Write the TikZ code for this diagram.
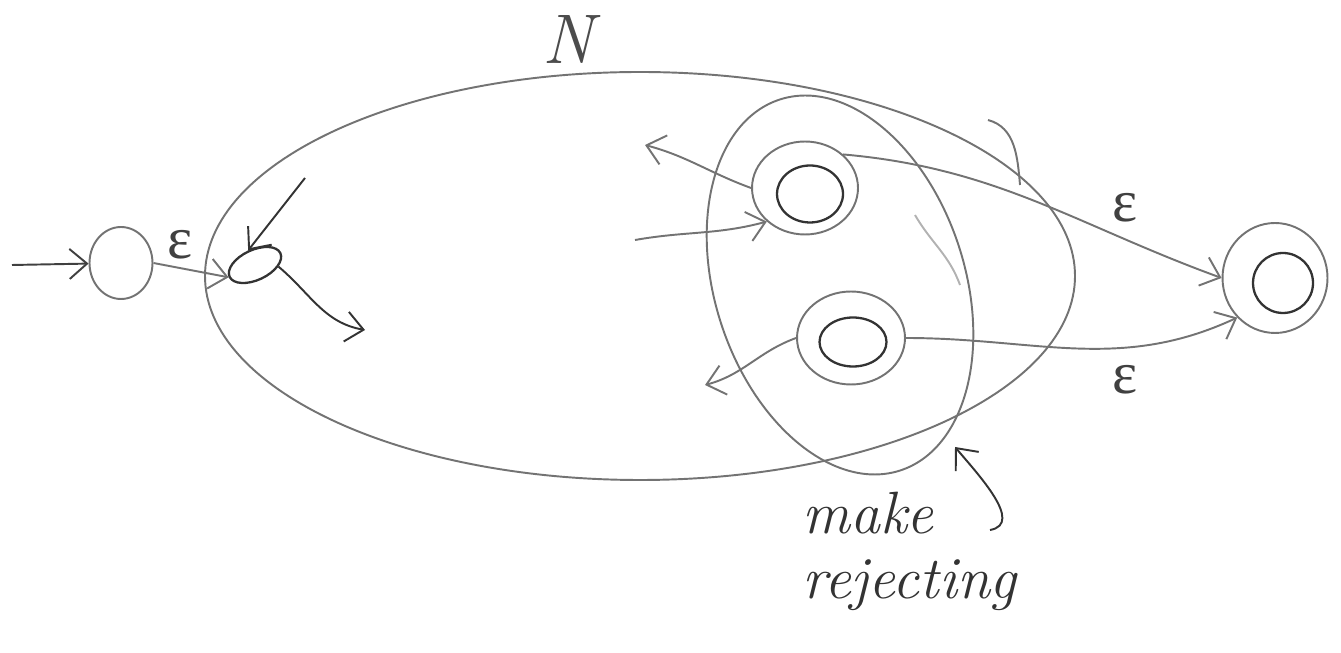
\documentclass[tikz,border=0pt]{standalone}
\usepackage{amsmath}
\usepackage{fontspec}
\newfontfamily\grk{Liberation Serif}
\usepackage{tikz}
\usetikzlibrary{positioning}
\usetikzlibrary{shapes.geometric,arrows.meta}

\begin{document}
\begin{tikzpicture}[x=0.02cm, y=0.02cm,
    pen/.style={draw=black!55, line width=1.1pt},
    ink/.style={draw=black!80, line width=1.3pt},
    arr/.style={pen, -{Straight Barb[length=3.5mm,width=6mm]}},
    st/.style={ellipse, pen, inner sep=0pt},
    eps/.style={text=black!75, font=\fontsize{34}{40}\selectfont\grk}]
    \useasboundingbox (0,0) rectangle (1341,652);

    % outer machine N
    \draw[pen] (640,376) ellipse [x radius=435, y radius=204];
    \node[text=black!70, font=\fontsize{40}{44}\selectfont\itshape] (nlabel) at (568,612) {N};

    % new start state and old start state
    \node[st, minimum width=1.26cm, minimum height=1.44cm] (start) at (121,389) {};
    \node[st, ink, minimum width=1.12cm, minimum height=0.6cm, rotate=25] (oldstart) at (255,387) {};
    \coordinate (inpt) at (12,387);
    \coordinate (oldin) at (305,474);
    \coordinate (oldout) at (365,322);
    \draw[arr, draw=black!75] (inpt) -- (start);
    \draw[arr] (start.east) -- (oldstart.west);
    \node[eps] (eps0) at (180,407) {ε};
    \draw[arr, draw=black!80] (oldin) -- (oldstart.north);
    \draw[arr, draw=black!80] (oldstart.south east) to[out=-40, in=170] (oldout);

    % accept states of N
    \node[st, minimum width=2.12cm, minimum height=1.86cm] (acc1) at (805,464) {};
    \node[st, ink, minimum width=1.32cm, minimum height=1.14cm] (acc1in) at (810,458) {};
    \node[st, minimum width=2.16cm, minimum height=1.86cm] (acc2) at (851,314) {};
    \node[st, ink, minimum width=1.34cm, minimum height=0.98cm] (acc2in) at (853,310) {};

    % the region to make rejecting
    \draw[pen] (840,367) ellipse [x radius=125, y radius=195, rotate=18];
    \draw[pen, draw=black!30] (915,437) to[out=-60, in=110] (960,367);
    \draw[pen] (988,532) to[out=-15, in=95] (1020,467);

    \coordinate (out1) at (645,507);
    \coordinate (in1) at (635,412);
    \coordinate (out2) at (705,267);
    \draw[arr] (acc1.west) to[out=160, in=-15] (out1);
    \draw[arr] (in1) to[out=10, in=195] (acc1.south west);
    \draw[arr] (acc2.west) to[out=200, in=15] (out2);

    % new accept state
    \node[st, minimum width=2.1cm, minimum height=2.2cm] (fin) at (1275,374) {};
    \node[st, ink, minimum width=1.2cm, minimum height=1.2cm] (finin) at (1283,369) {};
    \draw[arr] (acc1.north east) to[out=-5, in=160] (fin.west);
    \draw[arr] (acc2.east) to[out=0, in=205] (fin.south west);
    \node[eps] (eps1) at (1125,444) {ε};
    \node[eps] (eps2) at (1125,272) {ε};

    % note
    \node[anchor=north west, align=left, inner sep=0pt, text=black!80,
          font=\fontsize{34}{37}\selectfont\itshape] (note) at (802,160) {make\\rejecting};
    \coordinate (tip) at (955,205);
    \coordinate (hook) at (990,122);
    \draw[arr, draw=black!80] (hook) to[out=10, in=-50] (tip);
\end{tikzpicture}
\end{document}
